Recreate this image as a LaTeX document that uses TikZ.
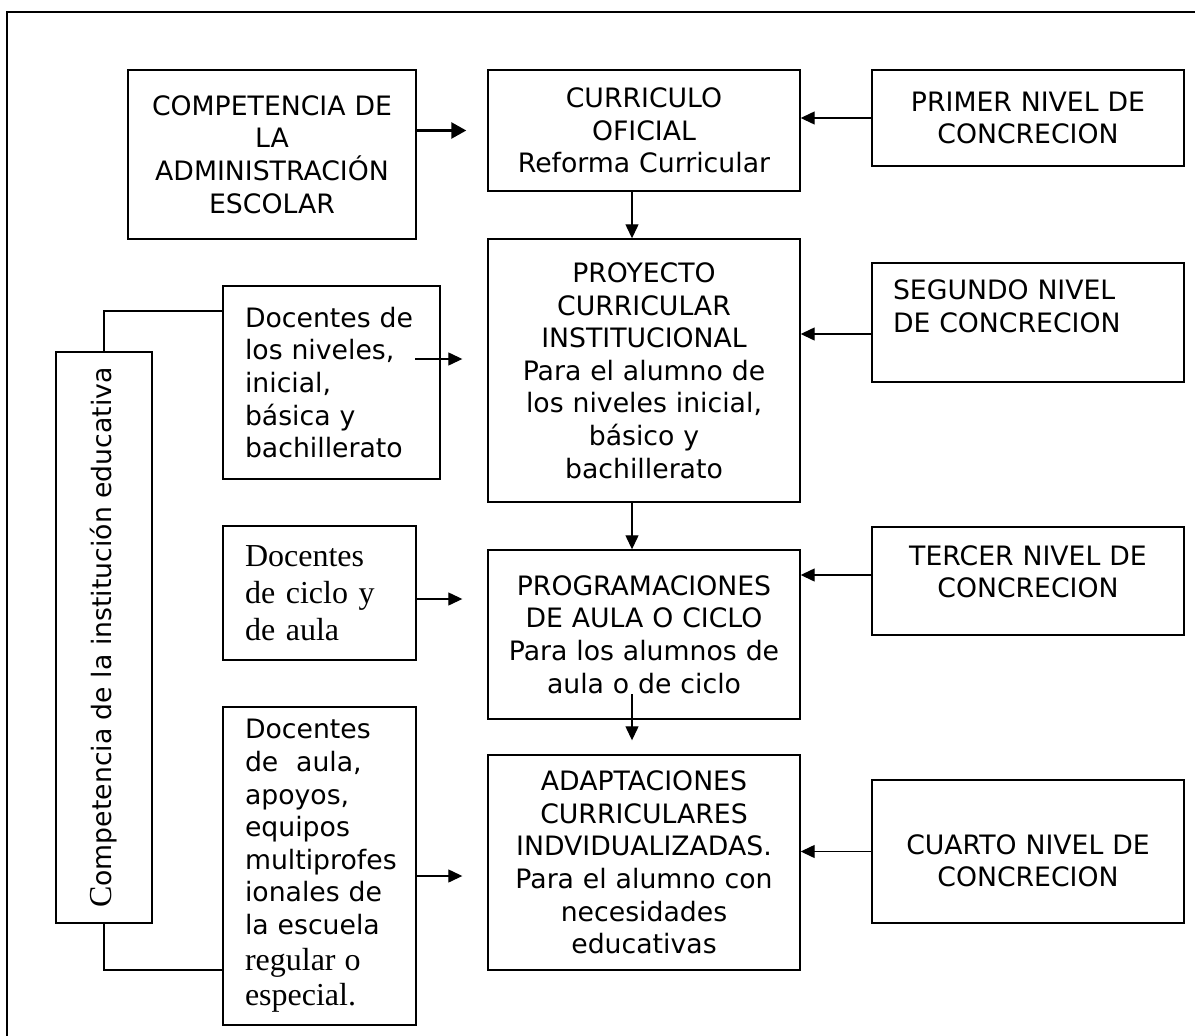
\documentclass[tikz,border=0pt]{standalone}
\usepackage{graphicx}
\usepackage{fontspec}
\usepackage{tikz}
\usetikzlibrary{arrows.meta}

\newfontfamily\sansf{DejaVu Sans}
\newfontfamily\serf{Liberation Serif}
\newcommand{\sansbig}{\sansf\fontsize{26.7pt}{32.6pt}\selectfont}
\newcommand{\serbig}{\serf\fontsize{32pt}{36.7pt}\selectfont}

\begin{document}
\begin{tikzpicture}[x=1pt, y=-1pt,
    box/.style={draw, line width=1.4pt, inner sep=0pt, align=center, font=\sansbig},
    colbox/.style={box, minimum width=312pt, text width=300pt},
    lvlbox/.style={box, minimum width=312pt, text width=300pt},
    docbox/.style={box, align=left, inner xsep=22pt},
    arrow/.style={line width=1.3pt, -{Triangle[length=14pt,width=13pt]}},
    bigarrow/.style={line width=2.6pt, -{Triangle[length=15pt,width=16pt]}},
    link/.style={line width=1.4pt}]

    \useasboundingbox (0,0) rectangle (1195,1036);

    % marco
    \draw[link] (7,1036) -- (7,12) -- (1195,12);

    % columna central
    \node[colbox, minimum height=121pt] (curr) at (644,130.5)
        {CURRICULO\\OFICIAL\\Reforma Curricular};
    \node[colbox, minimum height=263pt] (proy) at (644,370.5)
        {PROYECTO\\CURRICULAR\\INSTITUCIONAL\\Para el alumno de\\los niveles inicial,\\básico y\\bachillerato};
    \node[colbox, minimum height=169pt] (prog) at (644,634.5)
        {PROGRAMACIONES\\DE AULA O CICLO\\Para los alumnos de\\aula o de ciclo};
    \node[colbox, minimum height=215pt] (adap) at (644,862.5)
        {ADAPTACIONES\\CURRICULARES\\INDVIDUALIZADAS.\\Para el alumno con\\necesidades\\educativas};

    % niveles
    \node[lvlbox, minimum height=96pt] (prim) at (1028,118)
        {PRIMER NIVEL DE\\CONCRECION};
    \node[lvlbox, minimum height=119pt, align=left, inner xsep=21pt, text width=270pt] (seg) at (1028,322.5)
        {SEGUNDO NIVEL\\DE CONCRECION\rule[-33pt]{0pt}{0pt}};
    \node[lvlbox, minimum height=108pt] (terc) at (1028,581)
        {TERCER NIVEL DE\\CONCRECION\rule[-19pt]{0pt}{0pt}};
    \node[lvlbox, minimum height=143pt] (cuar) at (1028,851.5)
        {\rule{0pt}{38pt}CUARTO NIVEL DE\\CONCRECION};

    % lado izquierdo
    \node[box, minimum width=288pt, minimum height=169pt, text width=276pt] (comp) at (272,154.5)
        {COMPETENCIA DE\\LA\\ADMINISTRACIÓN\\ESCOLAR};
    \node[docbox, minimum height=193pt, text width=173pt] (doc1) at (331.5,382.5)
        {Docentes de\\los niveles,\\inicial,\\básica y\\bachillerato};
    \node[docbox, minimum height=134pt, text width=149pt, font=\serbig] (doc2) at (319.5,593)
        {Docentes\\de ciclo y\\de aula};
    \node[docbox, minimum height=318pt, text width=149pt] (doc3) at (319.5,866)
        {Docentes\\de\ \ aula,\\apoyos,\\equipos\\multiprofes\\ionales de\\la escuela\\[3pt]{\serbig regular o}\\[3pt]{\serbig especial.}};
    \node[box, minimum width=96pt, minimum height=571pt] (inst) at (104,637.5)
        {\rotatebox{90}{{\serbig C}ompetencia de la institución educativa}};

    % flechas
    \draw[bigarrow, shorten >=21pt] (comp.east |- curr.west) -- (curr.west);
    \draw[arrow] (prim.west) -- (prim.west -| curr.east);
    \draw[arrow] (seg.west |- 0,334) -- (proy.east |- 0,334);
    \draw[arrow] (terc.west |- 0,575) -- (prog.east |- 0,575);
    \draw[arrow] (cuar.west) -- (cuar.west -| adap.east);

    \draw[arrow] (curr.south -| 632,0) -- (proy.north -| 632,0);
    \draw[arrow] (proy.south -| 632,0) -- (prog.north -| 632,0);
    \coordinate (progout) at (632,694);
    \draw[arrow, shorten >=14pt] (progout) -- (adap.north -| progout);

    \coordinate (doc1out) at (415,359);
    \draw[arrow, shorten >=25pt] (doc1out) -- (proy.west |- doc1out);
    \draw[arrow, shorten >=25pt] (doc2.east |- 0,599) -- (prog.west |- 0,599);
    \draw[arrow, shorten >=25pt] (doc3.east |- 0,876) -- (adap.west |- 0,876);

    \draw[link] (inst.north) |- (doc1.west |- 0,311);
    \draw[link] (inst.south) |- (doc3.west |- 0,970);
\end{tikzpicture}
\end{document}
